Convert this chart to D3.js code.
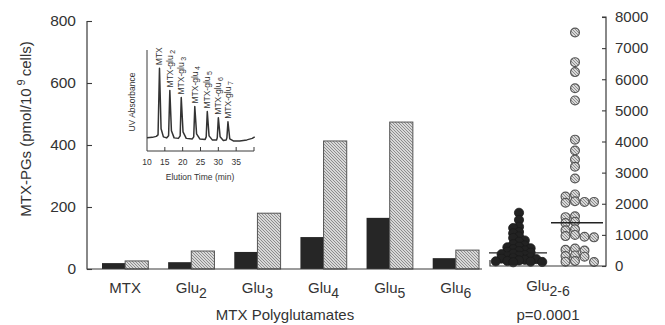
<!DOCTYPE html>
<html>
<head>
<meta charset="utf-8">
<script src="https://cdn.jsdelivr.net/npm/d3@7"></script>
<style>
  body { margin: 0; background: #fff; }
  text { font-family: "Liberation Sans", Arial, Helvetica, sans-serif; fill: #333; }
</style>
</head>
<body>
<svg id="chart" width="665" height="325"></svg>
<script>
// Bar chart data (pmol/10^9 cells)
var catBase = ["MTX", "Glu", "Glu", "Glu", "Glu", "Glu"];
var catSub = ["", "2", "3", "4", "5", "6"];
var darkBars = [19, 22, 55, 103, 165, 35];
var hatchBars = [26, 58, 180, 413, 474, 61];
var leftTicks = [0, 200, 400, 600, 800];

// Scatter panel (Glu 2-6), right axis
var darkDots = [1710, 1480, 1260, 1220, 1090, 1050, 950, 900, 820, 780, 700, 660,
    620, 600, 570, 540, 500, 480, 460, 430, 400, 380, 350, 330, 300, 280, 260, 240,
    220, 200, 180, 160, 150, 140, 130, 120];
var hatchDots = [7500, 6550, 6230, 5710, 5320, 4060, 3710, 3420, 3190, 2810, 2300,
    2230, 2080, 2060, 2060, 2030, 1600, 1570, 1420, 1380, 1180, 1150, 1000, 960, 940,
    920, 560, 520, 500, 340, 320, 300, 160, 140, 130];
var medians = [420, 1390];
var rightTicks = [0, 1000, 2000, 3000, 4000, 5000, 6000, 7000, 8000];

// Inset chromatogram: [elution time (min), absorbance]
var trace = [[10, 13], [11.5, 13.5], [12.6, 14.5], [13.1, 16], [13.5, 82], [13.95, 22],
    [14.6, 14], [15.5, 13], [16.05, 15], [16.4, 60], [16.85, 20], [17.6, 13], [18.8, 12.5],
    [19.3, 15], [19.6, 53], [20.1, 19], [21, 12.5], [22.7, 12], [23.1, 14], [23.4, 44],
    [23.9, 17], [24.8, 12], [26.3, 11.5], [26.6, 14], [26.9, 39], [27.4, 15], [28.3, 11],
    [29.5, 11], [29.7, 13], [30.0, 33], [30.5, 14], [31.4, 10.5], [32.2, 11], [32.4, 13],
    [32.7, 29], [33.2, 12], [34.2, 10], [36, 10], [38, 11], [39.5, 12.5], [40.2, 14]];
var peakTimes = [13.5, 16.4, 19.6, 23.4, 26.9, 30.0, 32.7];
var peakHeights = [82, 60, 53, 44, 39, 33, 29];
var peakSub = ["", "2", "3", "4", "5", "6", "7"];
var insetTicks = [10, 15, 20, 25, 30, 35];

var svg = d3.select("#chart");
var ink = "#3a3a3a";

// hatch pattern
var defs = svg.append("defs");
var pat = defs.append("pattern")
    .attr("id", "hatch")
    .attr("patternUnits", "userSpaceOnUse")
    .attr("width", 3).attr("height", 3);
pat.append("rect").attr("width", 3).attr("height", 3).attr("fill", "#d8d8d8");
pat.append("path")
    .attr("d", "M0,0 L3,3 M-1,2 L1,4 M2,-1 L4,1")
    .attr("stroke", "#7a7a7a").attr("stroke-width", 0.8);

// ---------- left bar chart ----------
var x = d3.scaleBand()
    .domain(d3.range(catBase.length))
    .range([102, 479])
    .paddingInner(0.3)
    .paddingOuter(0);

var y = d3.scaleLinear().domain([0, 800]).range([269, 21]);

var half = x.bandwidth() / 2;

svg.selectAll(".bar-dark")
    .data(darkBars)
    .join("rect")
    .attr("class", "bar-dark")
    .attr("x", (d, i) => x(i))
    .attr("y", d => y(d))
    .attr("width", half)
    .attr("height", d => y(0) - y(d))
    .attr("fill", "#262626");

svg.selectAll(".bar-hatch")
    .data(hatchBars)
    .join("rect")
    .attr("class", "bar-hatch")
    .attr("x", (d, i) => x(i) + half)
    .attr("y", d => y(d))
    .attr("width", half)
    .attr("height", d => y(0) - y(d))
    .attr("fill", "url(#hatch)")
    .attr("stroke", "#555")
    .attr("stroke-width", 1);

// left axis
var leftAxis = svg.append("g")
    .attr("transform", "translate(87,0)")
    .call(d3.axisRight(y).tickValues(leftTicks).tickSize(5).tickFormat(d3.format("d")));
leftAxis.select(".domain").remove();
leftAxis.selectAll(".tick line").attr("stroke", ink).attr("stroke-width", 1.1);
leftAxis.selectAll(".tick text")
    .attr("x", -11)
    .attr("text-anchor", "end")
    .attr("font-size", 15.5)
    .attr("fill", "#333");

svg.append("path")
    .attr("d", `M87,${y(800)}V${y(0)}H482`)
    .attr("fill", "none").attr("stroke", ink).attr("stroke-width", 1.2);

// category labels
var catText = svg.selectAll(".cat")
    .data(catBase)
    .join("text")
    .attr("class", "cat")
    .attr("x", (d, i) => x(i) + half)
    .attr("y", 293)
    .attr("text-anchor", "middle")
    .attr("font-size", 15);
catText.append("tspan").text(d => d);
catText.append("tspan")
    .attr("dy", 5)
    .attr("font-size", 14)
    .text((d, i) => catSub[i]);

svg.append("text")
    .attr("x", 285).attr("y", 320)
    .attr("text-anchor", "middle")
    .attr("font-size", 15)
    .text("MTX Polyglutamates");

var yTitle = svg.append("text")
    .attr("transform", "translate(31,129) rotate(-90)")
    .attr("text-anchor", "middle")
    .attr("font-size", 15);
yTitle.append("tspan").text("MTX-PGs (pmol/10");
yTitle.append("tspan").attr("dx", 3).attr("dy", -6).attr("font-size", 11).text("9");
yTitle.append("tspan").attr("dx", 3).attr("dy", 6).text("cells)");

// ---------- right dot panel ----------
var xr = d3.scaleBand().domain([0, 1]).range([490, 606]);
var yr = d3.scaleLinear().domain([0, 8000]).range([266, 17]);

// simple column beeswarm
function swarm(vals, cx, order, step, minDy) {
    var placed = [];
    vals.slice().sort((a, b) => b - a).forEach(function(v) {
        var py = yr(v);
        for (var k = 0; k < order.length; k++) {
            var c = order[k];
            var hit = placed.some(p => p.col === c && Math.abs(p.y - py) < minDy);
            if (!hit) {
                placed.push({ v: v, y: py, col: c, x: cx + c * step });
                return;
            }
        }
        placed.push({ v: v, y: py, col: 0, x: cx });
    });
    return placed;
}

var darkPts = swarm(darkDots, xr(0) + xr.bandwidth() / 2,
    [0, -1, 1, -2, 2, -3, 3, -4, 4], 5.8, 4.2);
var hatchPts = swarm(hatchDots, xr(1) + xr.bandwidth() / 2 - 2,
    [0, -1, 1, 2, -2, 3], 9.5, 5.5);

svg.selectAll(".dot-dark")
    .data(darkPts)
    .join("circle")
    .attr("class", "dot-dark")
    .attr("cx", d => d.x)
    .attr("cy", d => d.y)
    .attr("r", 4.6)
    .attr("fill", "#222")
    .attr("stroke", "#1a1a1a")
    .attr("stroke-width", 0.8);

svg.selectAll(".dot-hatch")
    .data(hatchPts)
    .join("circle")
    .attr("class", "dot-hatch")
    .attr("cx", d => d.x)
    .attr("cy", d => d.y)
    .attr("r", 4.4)
    .attr("fill", "url(#hatch)")
    .attr("stroke", "#555")
    .attr("stroke-width", 1.2);

// median lines, drawn over the dots
svg.selectAll(".median")
    .data(medians)
    .join("line")
    .attr("class", "median")
    .attr("x1", (d, i) => xr(i) + xr.bandwidth() / 2 - (i ? 26 : 30))
    .attr("x2", (d, i) => xr(i) + xr.bandwidth() / 2 + (i ? 26 : 28))
    .attr("y1", d => yr(d))
    .attr("y2", d => yr(d))
    .attr("stroke", "#222")
    .attr("stroke-width", 1.3);

var rightAxis = svg.append("g")
    .attr("transform", "translate(606,0)")
    .call(d3.axisLeft(yr).tickValues(rightTicks).tickSize(4).tickFormat(d3.format("d")));
rightAxis.select(".domain").remove();
rightAxis.selectAll(".tick line").attr("stroke", ink).attr("stroke-width", 1.1);
rightAxis.selectAll(".tick text")
    .attr("x", 9)
    .attr("text-anchor", "start")
    .attr("font-size", 15)
    .attr("fill", "#333");

svg.append("path")
    .attr("d", `M490,${yr(0) - 6}V${yr(0)}H606V${yr(8000)}H602`)
    .attr("fill", "none").attr("stroke", ink).attr("stroke-width", 1.2);

var gluText = svg.append("text")
    .attr("x", 548).attr("y", 291)
    .attr("text-anchor", "middle")
    .attr("font-size", 15);
gluText.append("tspan").text("Glu");
gluText.append("tspan").attr("dy", 5).attr("font-size", 14).text("2-6");

svg.append("text")
    .attr("x", 548).attr("y", 320)
    .attr("text-anchor", "middle")
    .attr("font-size", 15)
    .text("p=0.0001");

// ---------- inset chromatogram ----------
var xi = d3.scaleLinear().domain([10, 40]).range([147, 254]);
var yi = d3.scaleLinear().domain([0, 100]).range([151, 50]);

svg.append("path")
    .attr("d", `M${xi(10)},${yi(100)}V${yi(0)}H${xi(40)}`)
    .attr("fill", "none").attr("stroke", ink).attr("stroke-width", 1);

svg.selectAll(".itick")
    .data(insetTicks.slice(1).concat([40]))
    .join("line")
    .attr("class", "itick")
    .attr("x1", d => xi(d)).attr("x2", d => xi(d))
    .attr("y1", yi(0)).attr("y2", yi(0) - 4)
    .attr("stroke", ink).attr("stroke-width", 1);

svg.selectAll(".ilab")
    .data(insetTicks)
    .join("text")
    .attr("class", "ilab")
    .attr("x", d => xi(d))
    .attr("y", 165)
    .attr("text-anchor", "middle")
    .attr("font-size", 8.5)
    .text(d => d);

svg.append("text")
    .attr("x", 200).attr("y", 180)
    .attr("text-anchor", "middle")
    .attr("font-size", 8.5)
    .text("Elution Time (min)");

svg.append("text")
    .attr("transform", "translate(135,102) rotate(-90)")
    .attr("text-anchor", "middle")
    .attr("font-size", 8.5)
    .text("UV Absorbance");

svg.append("path")
    .datum(trace)
    .attr("d", d3.line().x(d => xi(d[0])).y(d => yi(d[1])))
    .attr("fill", "none")
    .attr("stroke", "#333")
    .attr("stroke-width", 1.5)
    .attr("stroke-linejoin", "round");

var peakLab = svg.selectAll(".plab")
    .data(peakTimes)
    .join("text")
    .attr("class", "plab")
    .attr("transform", (d, i) => `translate(${xi(d) + 3},${yi(peakHeights[i]) - 3}) rotate(-90)`)
    .attr("font-size", 8.5);
peakLab.append("tspan").text((d, i) => i ? "MTX-glu" : "MTX");
peakLab.append("tspan")
    .attr("dx", 1.5).attr("dy", 2)
    .attr("font-size", 7)
    .text((d, i) => peakSub[i]);
</script>
</body>
</html>
